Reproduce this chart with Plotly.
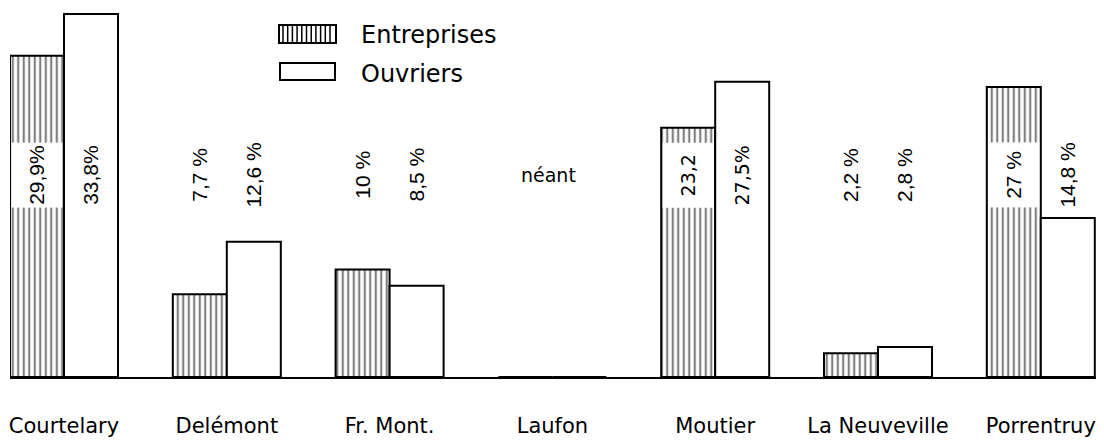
import plotly.graph_objects as go

districts = ["Courtelary", "Delémont", "Fr. Mont.", "Laufon", "Moutier", "La Neuveville", "Porrentruy"]
entreprises = [29.9, 7.7, 10.0, 0.0, 23.2, 2.2, 27.0]
ouvriers = [33.8, 12.6, 8.5, 0.0, 27.5, 2.8, 14.8]
labels_entreprises = ["29,9%", "7,7 %", "10 %", "", "23,2", "2,2 %", "27 %"]
labels_ouvriers = ["33,8%", "12,6 %", "8,5 %", "", "27,5%", "2,8 %", "14,8 %"]
label_nil = "néant"
series_names = ["Entreprises", "Ouvriers"]

W, H = 1088, 432
OFF = 8  # page body margin
ML, MR, MT, MB = 2, 0, 0, 63
PX_PER_UNIT = 10.74
plot_w = W - ML - MR
plot_h = H - MT - MB
Y_MAX = plot_h / PX_PER_UNIT
SPACING = 162.8
FIRST = 64 - OFF - ML
x_min = -FIRST / SPACING
x_max = (plot_w - FIRST) / SPACING
BAR_PX = 54
LABEL_Y = 18.8

fig = go.Figure()
fig.add_trace(go.Bar(
    x=districts, y=entreprises, name=series_names[0],
    marker=dict(color="white", line=dict(color="black", width=2),
                pattern=dict(shape="|", fgcolor="black", bgcolor="white", size=5.5, solidity=0.4)),
    showlegend=False,
))
fig.add_trace(go.Bar(
    x=districts, y=ouvriers, name=series_names[1],
    marker=dict(color="white", line=dict(color="black", width=2)),
    showlegend=False,
))

value_font = dict(family="Liberation Sans, Arial, sans-serif", size=21, color="black")
din_font = dict(family="DejaVu Sans, sans-serif", size=19, color="black")

for i, d in enumerate(districts):
    if entreprises[i] == 0 and ouvriers[i] == 0:
        fig.add_annotation(x=d, y=LABEL_Y, text=label_nil, showarrow=False, xshift=-4,
                           font=dict(family="DejaVu Sans, sans-serif", size=19, color="black"))
        continue
    for lab, shift, hatched in ((labels_entreprises[i], -BAR_PX / 2, True),
                                (labels_ouvriers[i], BAR_PX / 2, False)):
        f = din_font if d == "Moutier" else value_font
        fig.add_annotation(x=d, y=LABEL_Y, text=lab, showarrow=False, textangle=-90,
                           xshift=shift, font=f,
                           bgcolor="white" if hatched else "rgba(0,0,0,0)",
                           width=64, height=50, borderpad=0)

# legend drawn as layout decoration (positions in screen pixels)
def px(xs):
    return (xs - OFF - ML) / plot_w

def py(ys):
    return (MT + plot_h - (ys - OFF)) / plot_h

fig.add_shape(type="rect", xref="paper", yref="paper", x0=px(279), x1=px(336), y0=py(43), y1=py(25),
              line=dict(color="black", width=2), fillcolor="white")
xx = 283
while xx < 334:
    fig.add_shape(type="line", xref="paper", yref="paper", x0=px(xx), x1=px(xx), y0=py(43), y1=py(25),
                  line=dict(color="black", width=1.5))
    xx += 4.7
fig.add_shape(type="rect", xref="paper", yref="paper", x0=px(280), x1=px(335), y0=py(80), y1=py(63),
              line=dict(color="black", width=2), fillcolor="white")
legend_font = dict(family="DejaVu Sans, sans-serif", size=24, color="black")
fig.add_annotation(xref="paper", yref="paper", x=px(359), y=py(35), text=series_names[0],
                   showarrow=False, xanchor="left", yanchor="middle", font=legend_font)
fig.add_annotation(xref="paper", yref="paper", x=px(359), y=py(74), text=series_names[1],
                   showarrow=False, xanchor="left", yanchor="middle", font=legend_font)

fig.update_layout(
    width=W, height=H,
    margin=dict(l=ML, r=MR, t=MT, b=MB),
    paper_bgcolor="white", plot_bgcolor="white",
    barmode="group", bargap=1 - 2 * BAR_PX / SPACING, bargroupgap=0,
    showlegend=False,
    xaxis=dict(range=[x_min, x_max], showgrid=False, zeroline=False,
               showline=True, linecolor="black", linewidth=2,
               ticks="", ticklabelstandoff=29,
               tickfont=dict(family="DejaVu Sans, sans-serif", size=21, color="black")),
    yaxis=dict(range=[0, Y_MAX], visible=False, showgrid=False, zeroline=False),
)

fig.write_html("out.html")
